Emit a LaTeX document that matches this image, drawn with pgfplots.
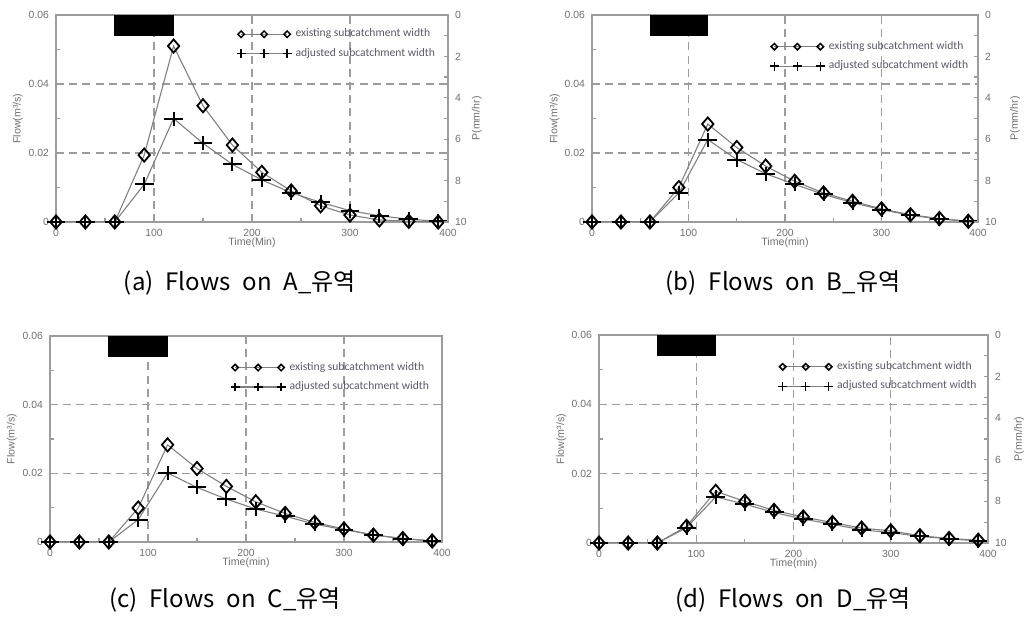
\documentclass[border=0pt]{standalone}
\usepackage{fontspec}
\setmainfont{Liberation Sans}
\newfontfamily\legfont{Carlito}
\newfontfamily\krfont{Noto Sans CJK KR}
\usepackage{pgfplots}
\pgfplotsset{compat=1.18}

\definecolor{axgray}{HTML}{9C9C9C}
\definecolor{txtgray}{HTML}{707070}
\definecolor{leggray}{HTML}{5A5A66}
\definecolor{curve}{HTML}{808080}

\pgfplotsset{
  common/.style={
    scale only axis,
    xmin=0, xmax=400,
    tick align=inside,
    axis line style={axgray, line width=0.7pt},
    every tick/.style={axgray, line width=0.6pt},
    tick label style={font=\fontsize{5.2}{6}\selectfont, text=txtgray},
    label style={font=\fontsize{5.3}{6}\selectfont, text=txtgray},
    /pgf/number format/assume math mode=true,
  },
  flowax/.style={
    common,
    ymin=0, ymax=0.06,
    xtick={0,100,200,300,400}, minor xtick={50,150,250,350},
    ytick={0,0.02,0.04,0.06}, minor ytick={0.01,0.03,0.05},
    xtick pos=left, ytick pos=left,
    major tick length=0pt, minor tick length=2pt,
    grid=major,
    grid style={axgray, line width=0.75pt, dash pattern=on 4pt off 2.6pt},
    scaled y ticks=false,
    yticklabel style={/pgf/number format/.cd, fixed, precision=2},
    ylabel={Flow(m³/s)},
    ylabel style={at={(rel axis cs:-0.097,0.5)}, anchor=center},
    xlabel style={at={(rel axis cs:0.5,-0.1)}, anchor=center},
    legend cell align=left,
    legend style={draw=none, fill=none, inner sep=0pt, row sep=0.2pt,
      font=\legfont\fontsize{5.8}{6.5}\selectfont, text=leggray,
      anchor=north west},
    legend image code/.code={
      \draw[#1] plot coordinates {(0pt,0pt) (11.5pt,0pt) (23pt,0pt)};
    },
  },
  rainax/.style={
    common,
    ymin=0, ymax=10, y dir=reverse,
    axis x line=none, axis y line*=right,
    ytick={0,2,4,6,8,10}, minor ytick={1,3,5,7,9},
    major tick length=2pt, minor tick length=2pt,
    ylabel={P(mm/hr)},
    ylabel style={anchor=center},
  },
  existing/.style={curve, line width=0.55pt, mark=diamond, mark size=3.3pt,
    mark options={draw=black, fill=white, line width=0.9pt, xscale=1.15, solid},
    legend image post style={mark size=1.6pt,
      mark options={draw=black, fill=white, line width=0.75pt, xscale=1.35, solid}}},
  adjusted/.style={curve, line width=0.55pt, mark=+, mark size=3.5pt,
    mark options={draw=black, line width=1pt, xscale=1.35, solid},
    legend image post style={mark size=2.2pt,
      mark options={draw=black, line width=0.7pt, solid}}},
}

\begin{document}
\begin{tikzpicture}
\useasboundingbox (0,0) rectangle (512pt,310.5pt);

% ---------- (a) ----------
\begin{axis}[flowax, at={(28pt,199.5pt)}, anchor=south west,
    width=196pt, height=103.5pt, xlabel={Time(Min)},
    legend style={at={(rel axis cs:0.46,0.955)}}]
  \addplot[existing] coordinates {
    (0,0) (30,0) (60,0) (90,0.0194) (120,0.0510) (150,0.0337) (180,0.0223)
    (210,0.0144) (240,0.0090) (270,0.0047) (300,0.0020) (330,0.0006)
    (360,0.0002) (390,0)};
  \addlegendentry{existing subcatchment width}
  \addplot[adjusted] coordinates {
    (0,0) (30,0) (60,0) (90,0.0109) (120,0.0300) (150,0.0228) (180,0.0167)
    (210,0.0122) (240,0.0085) (270,0.0057) (300,0.0033) (330,0.0018)
    (360,0.0008) (390,0.0002)};
  \addlegendentry{adjusted subcatchment width}
\end{axis}
\begin{axis}[rainax, at={(28pt,199.5pt)}, anchor=south west,
    width=196pt, height=103.5pt,
    ylabel style={at={(rel axis cs:1.074,0.5)}}]
  \addplot[fill=black, draw=black] coordinates {(60,0) (60,1) (120,1) (120,0)};
\end{axis}

% ---------- (b) ----------
\begin{axis}[flowax, at={(296pt,199.5pt)}, anchor=south west,
    width=193pt, height=103.5pt, xlabel={Time(min)},
    legend style={at={(rel axis cs:0.46,0.895)}}]
  \addplot[existing] coordinates {
    (0,0) (30,0) (60,0) (90,0.0100) (120,0.0284) (150,0.0216) (180,0.0162)
    (210,0.0118) (240,0.0084) (270,0.0060) (300,0.0038) (330,0.0021)
    (360,0.0010) (390,0.0002)};
  \addlegendentry{existing subcatchment width}
  \addplot[adjusted] coordinates {
    (0,0) (30,0) (60,0) (90,0.0084) (120,0.0239) (150,0.0181) (180,0.0140)
    (210,0.0109) (240,0.0080) (270,0.0056) (300,0.0036) (330,0.0019)
    (360,0.0009) (390,0.0002)};
  \addlegendentry{adjusted subcatchment width}
\end{axis}
\begin{axis}[rainax, at={(296pt,199.5pt)}, anchor=south west,
    width=193pt, height=103.5pt,
    ylabel style={at={(rel axis cs:1.096,0.5)}}]
  \addplot[fill=black, draw=black] coordinates {(60,0) (60,1) (120,1) (120,0)};
\end{axis}

% ---------- (c) ----------
\begin{axis}[flowax, at={(25pt,39.5pt)}, anchor=south west,
    width=196pt, height=103pt, xlabel={Time(min)},
    legend style={at={(rel axis cs:0.46,0.895)}}]
  \addplot[existing] coordinates {
    (0,0) (30,0) (60,0) (90,0.0099) (120,0.0283) (150,0.0214) (180,0.0162)
    (210,0.0117) (240,0.0083) (270,0.0057) (300,0.0038) (330,0.0020)
    (360,0.0010) (390,0.0003)};
  \addlegendentry{existing subcatchment width}
  \addplot[adjusted] coordinates {
    (0,0) (30,0) (60,0) (90,0.0065) (120,0.0201) (150,0.0159) (180,0.0125)
    (210,0.0096) (240,0.0075) (270,0.0052) (300,0.0036) (330,0.0021)
    (360,0.0010) (390,0.0003)};
  \addlegendentry{adjusted subcatchment width}
\end{axis}
\begin{axis}[rainax, at={(25pt,39.5pt)}, anchor=south west,
    width=196pt, height=103pt, ytick=\empty, minor ytick=\empty, ylabel={}]
  \addplot[fill=black, draw=black] coordinates {(60,0) (60,1) (120,1) (120,0)};
\end{axis}

% ---------- (d) ----------
\begin{axis}[flowax, at={(299.5pt,39pt)}, anchor=south west,
    width=194.5pt, height=104pt, xlabel={Time(min)},
    legend style={at={(rel axis cs:0.46,0.895)}}]
  \addplot[existing] coordinates {
    (0,0) (30,0) (60,0) (90,0.0048) (120,0.0149) (150,0.0120) (180,0.0094)
    (210,0.0075) (240,0.0059) (270,0.0043) (300,0.0035) (330,0.0021)
    (360,0.0013) (390,0.0008)};
  \addlegendentry{existing subcatchment width}
  \addplot[adjusted] coordinates {
    (0,0) (30,0) (60,0) (90,0.0044) (120,0.0133) (150,0.0112) (180,0.0088)
    (210,0.0069) (240,0.0054) (270,0.0038) (300,0.0030) (330,0.0019)
    (360,0.0012) (390,0.0006)};
  \addlegendentry{adjusted subcatchment width}
\end{axis}
\begin{axis}[rainax, at={(299.5pt,39pt)}, anchor=south west,
    width=194.5pt, height=104pt,
    ylabel style={at={(rel axis cs:1.08,0.5)}}]
  \addplot[fill=black, draw=black] coordinates {(60,0) (60,1) (120,1) (120,0)};
\end{axis}

% captions
\node[font=\krfont\fontsize{12}{14}\selectfont] at (120pt,169pt) {(a)\hspace{0.5em}Flows\hspace{0.5em}on\hspace{0.5em}A\_유역};
\node[font=\krfont\fontsize{12}{14}\selectfont] at (391.5pt,169pt) {(b)\hspace{0.5em}Flows\hspace{0.5em}on\hspace{0.5em}B\_유역};
\node[font=\krfont\fontsize{12}{14}\selectfont] at (112.5pt,10.5pt) {(c)\hspace{0.5em}Flows\hspace{0.5em}on\hspace{0.5em}C\_유역};
\node[font=\krfont\fontsize{12}{14}\selectfont] at (396.5pt,10.5pt) {(d)\hspace{0.5em}Flows\hspace{0.5em}on\hspace{0.5em}D\_유역};
\end{tikzpicture}
\end{document}
